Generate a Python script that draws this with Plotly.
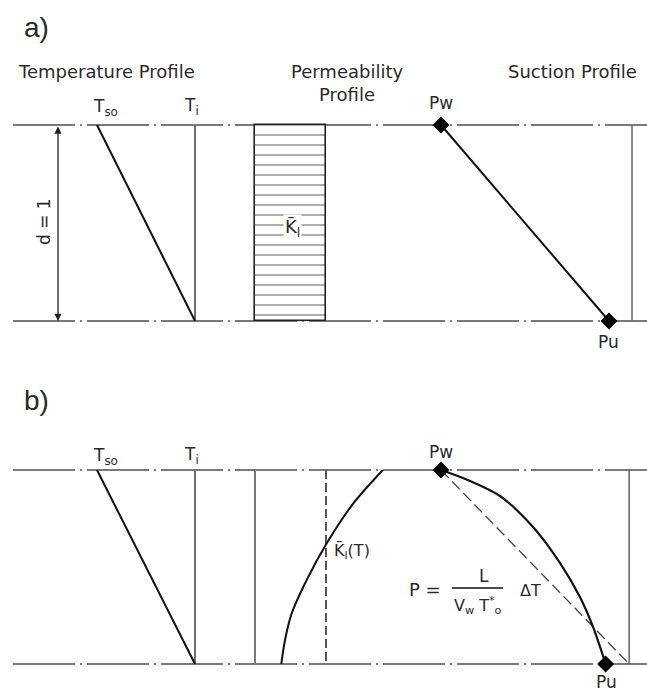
import plotly.graph_objects as go

W, H = 647, 696

# ---- profile data (normalised units; depth 0 = surface, 1 = base of layer) ----
depth = [0.0, 1.0]
temp_profile = [0.0, 1.0]          # T_so at the surface, T_i at the base
temp_initial = [1.0, 1.0]          # T_i
perm_uniform = 1.0                 # K̄l (uniform permeability)
perm_base = [0.0, 0.0]             # left reference line of the permeability panel
perm_ref = [1.0, 1.0]              # K̄l reference in panel b
suction_linear = [0.0, 1.0]        # Pw -> Pu

perm_curve_depth = [0.0, 0.172, 0.378, 0.567, 0.739, 0.876, 1.0]
perm_curve_k = [1.80, 1.385, 1.01, 0.728, 0.517, 0.423, 0.37]

suction_curve_depth = [0.0, 0.05, 0.134, 0.294, 0.479, 0.655, 0.809, 1.0]
suction_curve_p = [0.0, 0.155, 0.351, 0.548, 0.708, 0.827, 0.905, 0.98]

suction_limit_a = 1.137
suction_limit_b = 1.12
suction_pu_b = 0.98

# ---- panel geometry (pixel domains and pixel anchors of the unit scale) ----
cols = [
    dict(dom=(0, 240), px=(97, 195)),     # temperature
    dict(dom=(240, 400), px=(255, 326)),  # permeability
    dict(dom=(400, 647), px=(441, 609)),  # suction
]
rows = [
    dict(dom=(40, 365), px=(125, 321)),   # a)
    dict(dom=(375, 696), px=(470, 664)),  # b)
]


def lin(p, anchors):
    p0, p1 = anchors
    return (p - p0) / (p1 - p0)


fig = go.Figure()
layout_axes = {}
for r, row in enumerate(rows):
    for c, col in enumerate(cols):
        i = r * 3 + c + 1
        sx = "" if i == 1 else str(i)
        layout_axes["xaxis" + sx] = dict(
            domain=[col["dom"][0] / W, col["dom"][1] / W],
            range=[lin(col["dom"][0], col["px"]), lin(col["dom"][1], col["px"])],
            anchor="y" + sx, visible=False, fixedrange=True,
        )
        layout_axes["yaxis" + sx] = dict(
            domain=[1 - row["dom"][1] / H, 1 - row["dom"][0] / H],
            range=[lin(row["dom"][1], row["px"]), lin(row["dom"][0], row["px"])],
            anchor="x" + sx, visible=False, fixedrange=True,
        )


def ax(i):
    s = "" if i == 1 else str(i)
    return dict(xaxis="x" + s, yaxis="y" + s)


def line(x, y, i, color="#111", width=2, dash="solid", shape="linear", smoothing=1.0):
    fig.add_trace(go.Scatter(x=x, y=y, mode="lines", showlegend=False, hoverinfo="skip",
                             line=dict(color=color, width=width, dash=dash, shape=shape,
                                       smoothing=smoothing),
                             cliponaxis=False, **ax(i)))


def diamond(x, y, i):
    fig.add_trace(go.Scatter(x=x, y=y, mode="markers", showlegend=False, hoverinfo="skip",
                             marker=dict(symbol="diamond", size=13, color="#000"),
                             cliponaxis=False, **ax(i)))


# ---- a) uniform permeability ----
# temperature profile
line(temp_initial, depth, 1, color="#6e6e6e", width=2)
line(temp_profile, depth, 1, color="#111", width=2)
# permeability block with horizontal hatching
fig.add_trace(go.Bar(x=[perm_uniform], y=[0.5], width=[1.0], base=0, orientation="h",
                     showlegend=False, hoverinfo="skip",
                     marker=dict(color="white", line=dict(color="#222", width=1.6),
                                 pattern=dict(shape="-", size=10, solidity=0.16,
                                              fgcolor="#333", bgcolor="white")),
                     **ax(2)))
# suction profile
line([suction_limit_a, suction_limit_a], depth, 3, color="#6e6e6e", width=1.6)
line(suction_linear, depth, 3, color="#111", width=2)
diamond(suction_linear, depth, 3)

# ---- b) temperature-dependent permeability ----
line(temp_initial, depth, 4, color="#6e6e6e", width=2)
line(temp_profile, depth, 4, color="#111", width=2)
line(perm_base, depth, 5, color="#7a7a7a", width=2)
line(perm_ref, depth, 5, color="#555", width=2, dash="9px,4px")
line(perm_curve_k, perm_curve_depth, 5, color="#111", width=2, shape="spline", smoothing=0.8)
line([suction_limit_b, suction_limit_b], depth, 6, color="#555", width=1.4)
line([0.0, suction_limit_b], depth, 6, color="#444", width=1.3, dash="11px,5px")
line(suction_curve_p, suction_curve_depth, 6, color="#111", width=2.2, shape="spline",
     smoothing=0.8)
diamond([0.0, suction_pu_b], depth, 6)

# ---- dash-dot layer boundaries across the whole width ----
shapes = []
for yref in ("y", "y4"):
    for d in depth:
        shapes.append(dict(type="line", xref="paper", yref=yref, x0=13 / W, x1=1.0,
                           y0=d, y1=d, line=dict(color="#7a7a7a", width=2,
                                                 dash="62px,5px,2px,5px"),
                           layer="below"))
# fraction bar of the suction equation
shapes.append(dict(type="line", xref="paper", yref="paper", x0=452 / W, x1=503 / W,
                   y0=1 - 588 / H, y1=1 - 588 / H, line=dict(color="#111", width=1.5)))

# ---- text ----
FONT = "DejaVu Sans"
TXT = "#2a2a2a"


def label(text, x, y, size=17, family=FONT, **kw):
    return dict(text=text, x=x / W, y=1 - y / H, xref="paper", yref="paper",
                showarrow=False, xanchor="center", yanchor="middle",
                font=dict(family=family, size=size, color=TXT), **kw)


annotations = [
    label("a)", 36, 27, size=28, family="Liberation Sans"),
    label("b)", 36, 400, size=28, family="Liberation Sans"),
    label("Temperature Profile", 106, 72, size=18),
    label("Permeability", 347, 72, size=18),
    label("Profile", 347, 95, size=18),
    label("Suction Profile", 572, 72, size=18),
    label("T<sub>so</sub>", 105, 108),
    label("T<sub>i</sub>", 191, 106),
    label("Pw", 441, 103),
    label("Pu", 608, 342),
    label("T<sub>so</sub>", 105, 456),
    label("T<sub>i</sub>", 191, 455),
    label("Pw", 441, 452),
    label("Pu", 606, 682),
    label("d = 1", 44, 222, textangle=-90),
    label("K\u0304<sub>l</sub>", 292, 228, size=18, bgcolor="white", borderpad=1),
    label("K\u0304<sub>l</sub>(T)", 352, 551, size=16),
    label("P =", 425, 589, size=18),
    label("L", 484, 576, size=17),
    label("V<sub>w</sub> T<sup>*</sup><sub>o</sub>", 478, 605, size=16),
    label("\u0394T", 530, 590, size=16),
    # depth arrow d = 1
    dict(xref="x", yref="y", axref="x", ayref="y", x=lin(58, cols[0]["px"]), y=1.0,
         ax=lin(58, cols[0]["px"]), ay=0.0, text="", showarrow=True, arrowhead=2,
         arrowside="end+start", arrowsize=1.1, arrowwidth=1.3, arrowcolor="#222",
         standoff=0, startstandoff=0),
]

fig.update_layout(
    width=W, height=H, margin=dict(l=0, r=0, t=0, b=0),
    paper_bgcolor="white", plot_bgcolor="rgba(0,0,0,0)",
    showlegend=False, shapes=shapes, annotations=annotations, bargap=0,
    **layout_axes,
)

fig.write_html("out.html")
